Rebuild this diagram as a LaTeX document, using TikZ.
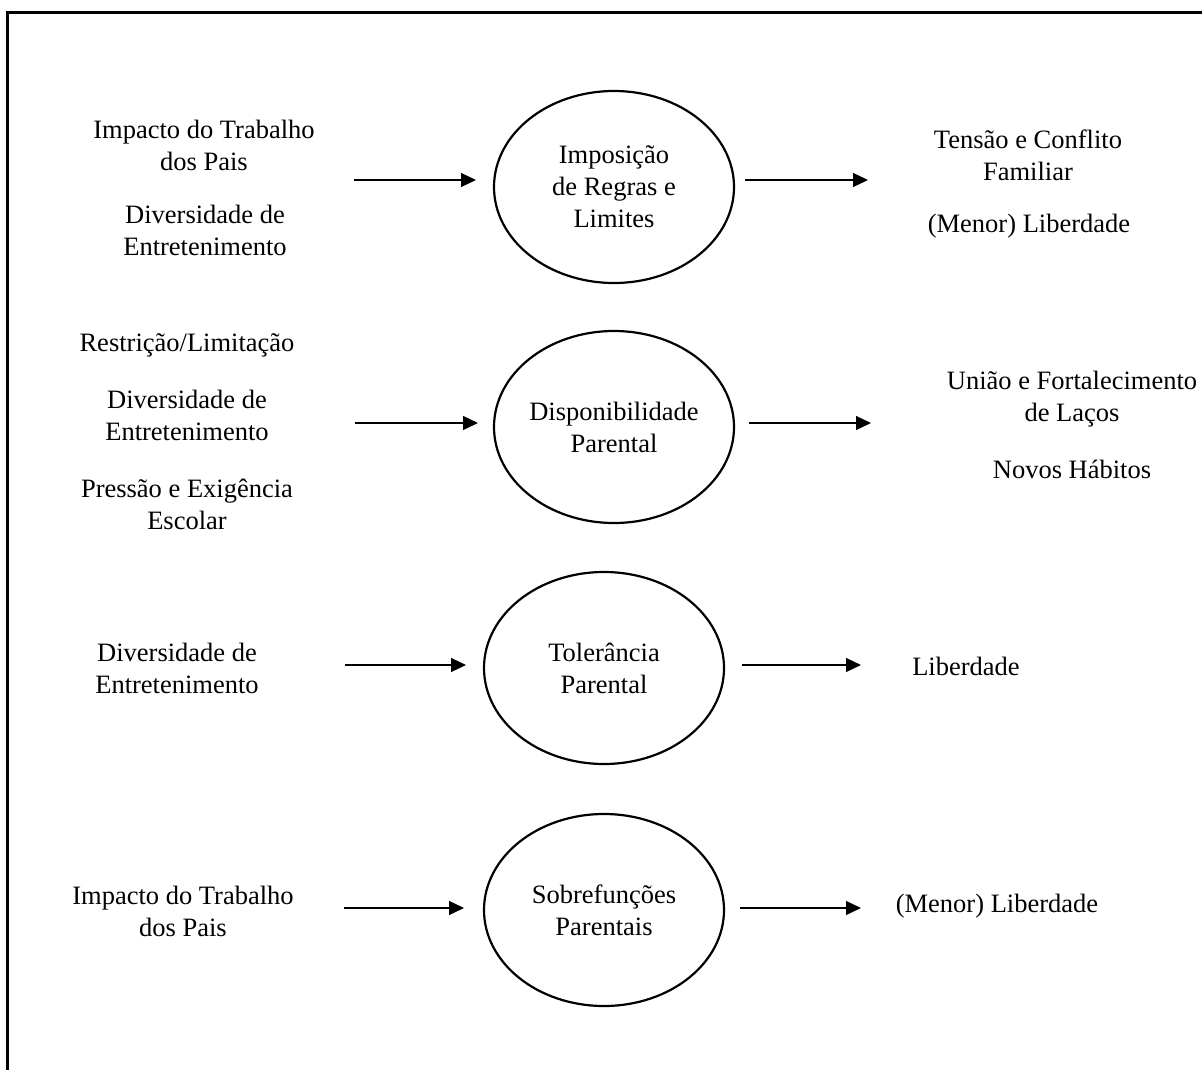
\documentclass[tikz,border=0pt]{standalone}
\usepackage{fontspec}
\setmainfont{Liberation Serif}
\usetikzlibrary{shapes.geometric,arrows.meta}
\begin{document}
\begin{tikzpicture}[x=1pt,y=-1pt,
  oval/.style={draw,ellipse,line width=2.2pt,minimum width=240pt,minimum height=192pt,inner sep=0pt},
  lbl/.style={align=center,font=\fontsize{26.5}{32}\selectfont,inner sep=0pt},
  arr/.style={line width=1.2pt,-{Triangle[length=15pt,width=14pt]}}]
\useasboundingbox (0,0) rectangle (1202,1070);
\clip (0,0) rectangle (1202,1070);
\fill[white] (0,0) rectangle (1202,1070);
\draw[line width=3pt] (1230,12.5) -- (7.5,12.5) -- (7.5,1100);

% ellipses
\node[oval] (e1) at (614,187) {};
\node[oval] (e2) at (614,427) {};
\node[oval] (e3) at (604,668) {};
\node[oval] (e4) at (604,910) {};
\node[lbl] (t1) at (e1.center) {Imposição\\de Regras e\\Limites};
\node[lbl] (t2) at (e2.center) {Disponibilidade\\Parental};
\node[lbl] (t3) at (e3.center) {Tolerância\\Parental};
\node[lbl] (t4) at (e4.center) {Sobrefunções\\Parentais};

% left texts
\node[lbl] (l1a) at (204,145) {Impacto do Trabalho\\dos Pais};
\node[lbl] (l1b) at (205,230) {Diversidade de\\Entretenimento};
\node[lbl] (l2a) at (187,345) {Restrição/Limitação};
\node[lbl] (l2b) at (187,415) {Diversidade de\\Entretenimento};
\node[lbl] (l2c) at (187,504) {Pressão e Exigência\\Escolar};
\node[lbl] (l3a) at (177,668) {Diversidade de\\Entretenimento};
\node[lbl] (l4a) at (183,911) {Impacto do Trabalho\\dos Pais};

% right texts
\node[lbl] (r1a) at (1028,155) {Tensão e Conflito\\Familiar};
\node[lbl] (r1b) at (1029,226) {(Menor) Liberdade};
\node[lbl] (r2a) at (1072,399) {União e Fortalecimento\\de Laços};
\node[lbl] (r2b) at (1072,469) {Novos Hábitos};
\node[lbl] (r3a) at (966,666) {Liberdade};
\node[lbl] (r4a) at (997,906) {(Menor) Liberdade};

% arrow end points
\coordinate (i1s) at (354,180); \coordinate (i1e) at (476,180);
\coordinate (o1s) at (745,180); \coordinate (o1e) at (868,180);
\coordinate (i2s) at (355,423); \coordinate (i2e) at (478,423);
\coordinate (o2s) at (749,423); \coordinate (o2e) at (871,423);
\coordinate (i3s) at (345,665); \coordinate (i3e) at (466,665);
\coordinate (o3s) at (742,665); \coordinate (o3e) at (861,665);
\coordinate (i4s) at (344,908); \coordinate (i4e) at (464,908);
\coordinate (o4s) at (740,908); \coordinate (o4e) at (861,908);

\draw[arr] (i1s) -- (i1e);
\draw[arr] (o1s) -- (o1e);
\draw[arr] (i2s) -- (i2e);
\draw[arr] (o2s) -- (o2e);
\draw[arr] (i3s) -- (i3e);
\draw[arr] (o3s) -- (o3e);
\draw[arr] (i4s) -- (i4e);
\draw[arr] (o4s) -- (o4e);
\end{tikzpicture}
\end{document}
